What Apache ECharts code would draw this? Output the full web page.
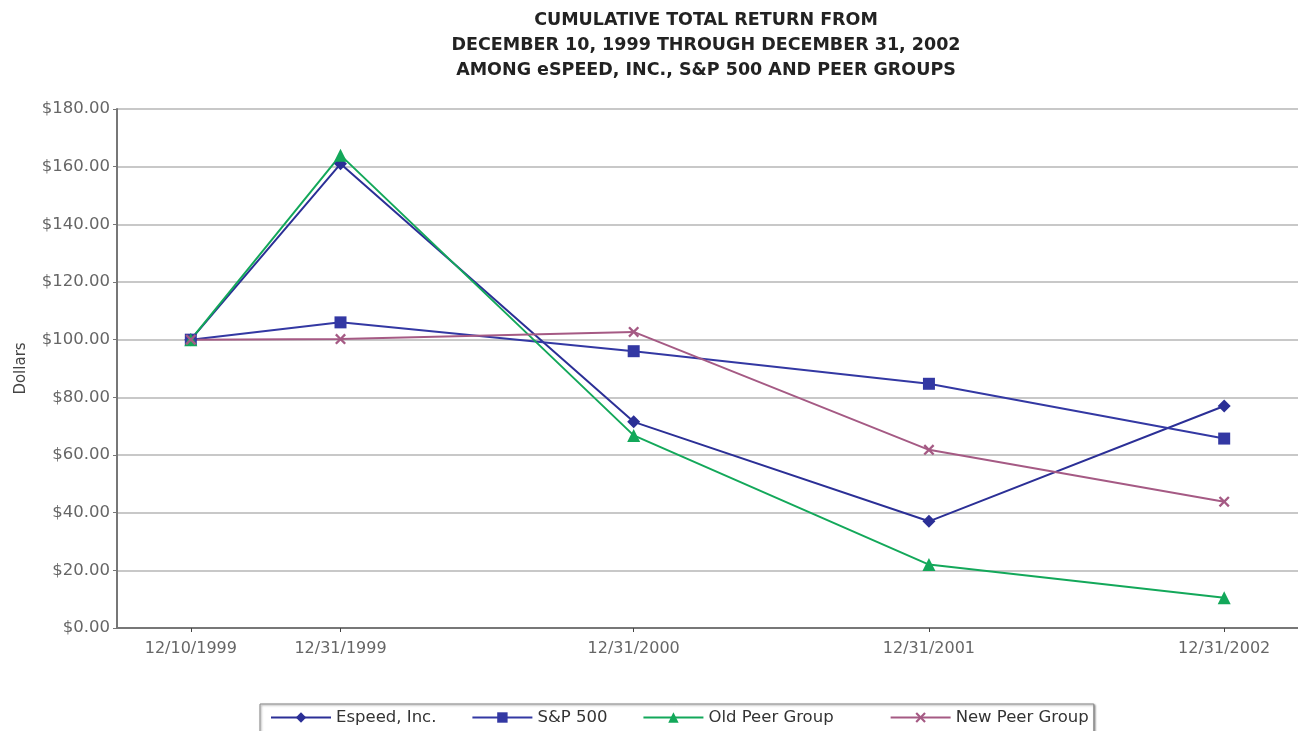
<!DOCTYPE html>
<html><head><meta charset="utf-8">
<script src="https://cdn.jsdelivr.net/npm/echarts@6/dist/echarts.min.js"></script>
<style>html,body{margin:0;padding:0;background:#fff}#c{width:1298px;height:731px}</style>
</head><body><div id="c"></div>
<script>
const categories = ['12/10/1999', '12/31/1999', '12/31/2000', '12/31/2001', '12/31/2002'];
const xPositions = [0, 0.507, 1.5, 2.5, 3.5];
const espeed = [100, 161, 71.5, 37, 77];
const sp500 = [100, 106, 96, 84.7, 65.7];
const oldPeer = [100, 164, 66.8, 22, 10.5];
const newPeer = [100, 100.2, 102.7, 61.8, 43.8];
const yTicks = [0, 20, 40, 60, 80, 100, 120, 140, 160, 180];

const FONT = 'DejaVu Sans, Liberation Sans, Arial, sans-serif';
const xMark = 'path://M0,1.5 L1.5,0 L5,3.5 L8.5,0 L10,1.5 L6.5,5 L10,8.5 L8.5,10 L5,6.5 L1.5,10 L0,8.5 L3.5,5 Z';
function mk(name, vals, color, symbol, size) {
  return {
    name, type: 'line', data: vals.map((v, i) => [xPositions[i], v]),
    symbol, symbolSize: size, showSymbol: true,
    lineStyle: {color, width: 2}, itemStyle: {color},
    emphasis: {disabled: true}, animation: false
  };
}
const chart = echarts.init(document.getElementById('c'), null, {renderer: 'canvas'});
chart.setOption({
  animation: false,
  backgroundColor: '#fff',
  textStyle: {fontFamily: FONT},
  title: {
    text: 'CUMULATIVE TOTAL RETURN FROM\nDECEMBER 10, 1999 THROUGH DECEMBER 31, 2002\nAMONG eSPEED, INC., S&P 500 AND PEER GROUPS',
    left: 701, top: 3, textAlign: 'center',
    textStyle: {fontSize: 17.5, fontWeight: 'bold', color: '#222', lineHeight: 25, fontFamily: FONT}
  },
  legend: {
    left: 260, top: 704,
    itemWidth: 60, itemHeight: 13, itemGap: 35,
    padding: [5, 5, 12, 10],
    borderColor: '#888', borderWidth: 1,
    shadowColor: 'rgba(0,0,0,0.4)', shadowBlur: 2, shadowOffsetX: 1, shadowOffsetY: 1,
    backgroundColor: '#fff',
    textStyle: {fontSize: 16.5, color: '#333', fontFamily: FONT},
    formatter: name => name === 'Old Peer Group' ? name + '    ' : name,
    data: ['Espeed, Inc.', 'S&P 500', 'Old Peer Group', 'New Peer Group']
  },
  grid: {left: 117, right: -2, top: 109, bottom: 103, containLabel: false},
  xAxis: {
    type: 'value', min: -0.25, max: 3.75,
    axisLine: {show: true, onZero: false, lineStyle: {color: '#777', width: 2}},
    axisTick: {show: true, customValues: xPositions, length: 4, inside: false, lineStyle: {color: '#444'}},
    axisLabel: {
      show: true, customValues: xPositions, color: '#666', fontSize: 16, margin: 13, fontFamily: FONT,
      formatter: v => { const i = xPositions.indexOf(v); return i >= 0 ? categories[i] : ''; }
    },
    splitLine: {show: false}
  },
  yAxis: {
    type: 'value', min: 0, max: 180, interval: 20,
    name: 'Dollars', nameLocation: 'middle', nameRotate: 90, nameGap: 88,
    nameTextStyle: {color: '#444', fontSize: 15, fontFamily: FONT},
    axisLine: {show: true, onZero: false, lineStyle: {color: '#777', width: 2}},
    axisTick: {show: true, length: 4, lineStyle: {color: '#777'}},
    axisLabel: {color: '#666', fontSize: 16.5, margin: 7, fontFamily: FONT, formatter: v => '$' + v.toFixed(2)},
    splitLine: {show: true, lineStyle: {color: '#c8c8c8', width: 2}}
  },
  series: [
    mk('Espeed, Inc.', espeed, '#2b2f96', 'diamond', 13),
    mk('S&P 500', sp500, '#3338a3', 'rect', 12),
    mk('Old Peer Group', oldPeer, '#13a85a', 'triangle', 13),
    mk('New Peer Group', newPeer, '#a55a84', xMark, 11)
  ]
});
</script></body></html>
